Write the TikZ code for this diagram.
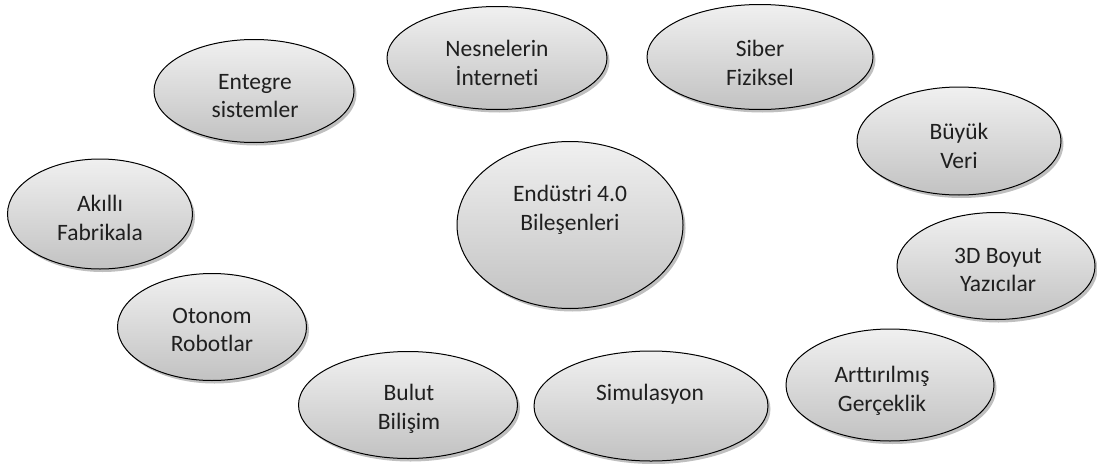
\documentclass[tikz,border=0pt]{standalone}
\usepackage{fontspec}
\setmainfont{Carlito}[Ligatures=NoCommon]
\usetikzlibrary{shapes.geometric,shadows}
\definecolor{topgray}{HTML}{F0F0F0}
\definecolor{botgray}{HTML}{C2C2C2}
\begin{document}
\begin{tikzpicture}[x=1pt,y=-1pt,
  bubble/.style={ellipse, draw=black, line width=1pt, inner sep=0pt,
    top color=topgray, bottom color=botgray,
    drop shadow={shadow xshift=2.5pt, shadow yshift=-3pt, opacity=0.25, fill=black}},
  lbl/.style={align=center, inner sep=0pt, font=\fontsize{23.5}{28.5}\selectfont, text=black!88}]
\useasboundingbox (0,0) rectangle (1097,463);
\node[bubble, minimum width=220, minimum height=103] (iot) at (497,58) {};
\node[lbl] (iott) at (497,63) {Nesnelerin\\İnterneti};
\node[bubble, minimum width=226, minimum height=105] (cps) at (760,57) {};
\node[lbl] (cpst) at (760,63) {Siber\\Fiziksel};
\node[bubble, minimum width=200, minimum height=103] (ent) at (254,91) {};
\node[lbl] (entt) at (255,96) {Entegre\\sistemler};
\node[bubble, minimum width=204, minimum height=108] (big) at (959,141) {};
\node[lbl] (bigt) at (959,146) {Büyük\\Veri};
\node[bubble, minimum width=185, minimum height=110] (fab) at (100,214) {};
\node[lbl] (fabt) at (100,218) {Akıllı\\Fabrikala};
\node[bubble, minimum width=226, minimum height=167] (core) at (570,225) {};
\node[lbl] (coret) at (570,210) {Endüstri 4.0\\Bileşenleri};
\node[bubble, minimum width=198, minimum height=107] (print) at (996,266) {};
\node[lbl] (printt) at (998,270) {3D Boyut\\Yazıcılar};
\node[bubble, minimum width=189, minimum height=107] (rob) at (212,327) {};
\node[lbl] (robt) at (212,330) {Otonom\\Robotlar};
\node[bubble, minimum width=208, minimum height=112] (ar) at (890,385) {};
\node[lbl] (art) at (882,391) {Arttırılmış\\Gerçeklik};
\node[bubble, minimum width=219, minimum height=107] (cloud) at (408,405) {};
\node[lbl] (cloudt) at (409,409) {Bulut\\Bilişim};
\node[bubble, minimum width=234, minimum height=110] (sim) at (651,406) {};
\node[lbl] (simt) at (650,394) {Simulasyon};
\end{tikzpicture}
\end{document}
